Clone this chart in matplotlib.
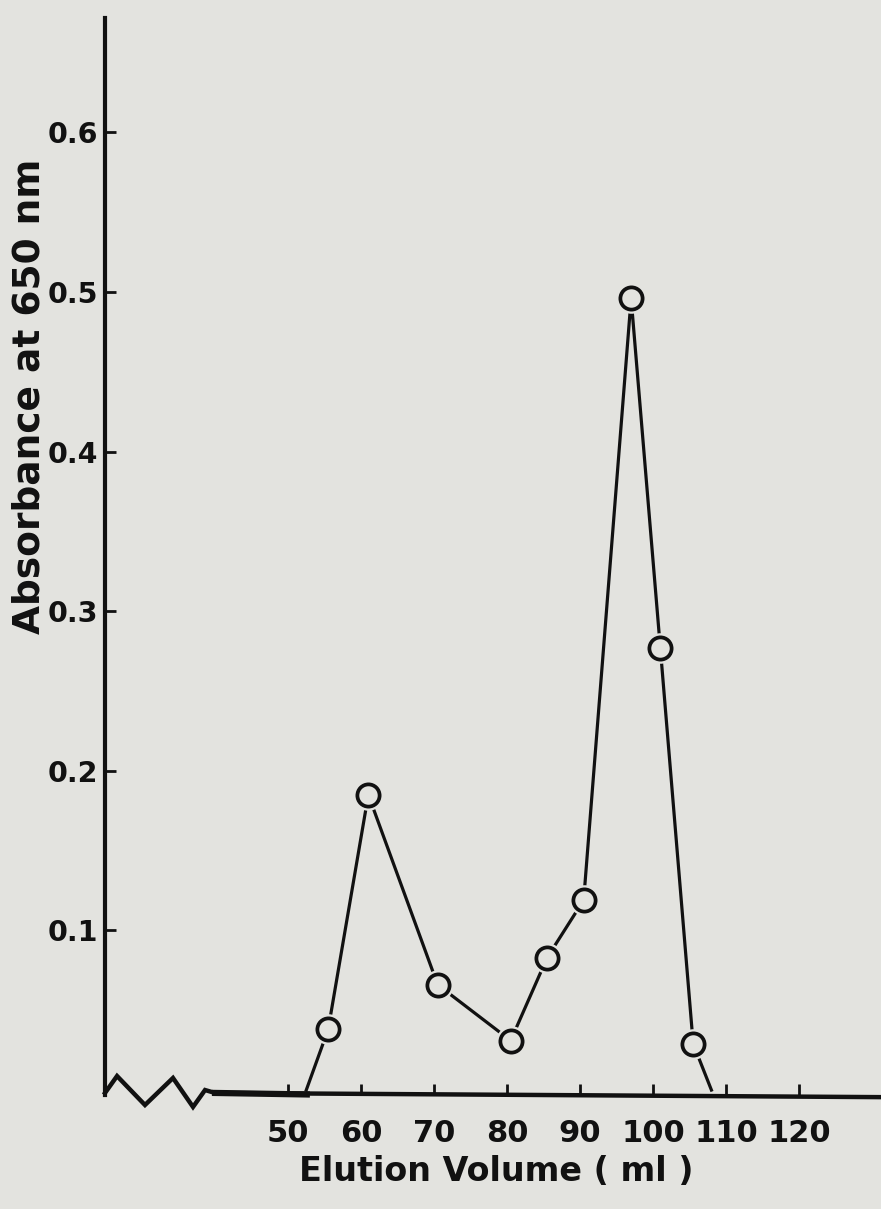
import matplotlib
matplotlib.use("Agg")
import matplotlib.pyplot as plt

# elution profile (ml, absorbance at 650 nm)
volume = [52.5, 55.5, 61, 70.5, 80.5, 85.5, 90.5, 97, 101, 105.5, 108]
absorb = [0.0, 0.038, 0.185, 0.066, 0.031, 0.083, 0.119, 0.496, 0.277, 0.029, 0.0]
# the two ends only meet the baseline, no circle drawn there
marked = slice(1, -1)

x_ticks = [50, 60, 70, 80, 90, 100, 110, 120]
y_ticks = [0.1, 0.2, 0.3, 0.4, 0.5, 0.6]
y_tick_labels = ["0.1", "0.2", "0.3", "0.4", "0.5", "0.6"]

bg = "#e3e3df"
ink = "#111111"

fig = plt.figure(figsize=(8.81, 12.09), dpi=100, facecolor=bg)
ax = fig.add_axes([0.1192, 0.0943, 0.8808, 0.8908], facecolor=bg)

ax.plot(volume, absorb, color=ink, lw=2.3, zorder=2)
# paper coloured blobs give the small gap between line and circle
ax.plot(volume[marked], absorb[marked], ls="none", marker="o", ms=22,
        mfc=bg, mec="none", zorder=3)
ax.plot(volume[marked], absorb[marked], ls="none", marker="o", ms=16,
        mfc=bg, mec=ink, mew=2.7, zorder=4)

ax.set_xlim(24.93, 131.23)
ax.set_ylim(-0.0031, 0.6717)

for s in ["top", "right", "bottom"]:
    ax.spines[s].set_visible(False)
ax.spines["left"].set_linewidth(3.0)
ax.spines["left"].set_color(ink)

# broken x axis: zigzag then a thick baseline
zz_x = [0, 0.0155, 0.0515, 0.0876, 0.1134, 0.1289, 0.1418, 1.0]
zz_y = [0.0019, 0.0176, -0.0093, 0.0158, -0.0111, 0.0046, 0.0019, -0.002]
ax.plot(zz_x, zz_y, transform=ax.transAxes, color=ink, lw=3.2,
        clip_on=False, solid_joinstyle="miter", zorder=5)
# heavier stretch of the baseline before the first peak
ax.plot([0.1418, 0.26], [0.0019, 0.0005], transform=ax.transAxes, color=ink,
        lw=4.5, clip_on=False, zorder=5)

ax.set_xticks(x_ticks)
ax.set_xticklabels([str(v) for v in x_ticks])
ax.set_yticks(y_ticks)
ax.set_yticklabels(y_tick_labels)
ax.tick_params(axis="x", direction="in", length=8, width=2, color=ink, pad=17,
               labelsize=22, labelcolor=ink)
ax.tick_params(axis="y", direction="in", length=8, width=2, color=ink, pad=5,
               labelsize=20.5, labelcolor=ink)
for lab in ax.get_xticklabels() + ax.get_yticklabels():
    lab.set_fontweight("bold")

fig.text(30 / 881, 0.6725, "Absorbance at 650 nm", rotation=90, ha="center",
         va="center", fontsize=27, fontweight="bold", color=ink)
fig.text(496 / 881, 0.031, "Elution Volume ( ml )", ha="center", va="center",
         fontsize=24, fontweight="bold", color=ink)

fig.savefig("out.png", dpi=100, facecolor=bg)
